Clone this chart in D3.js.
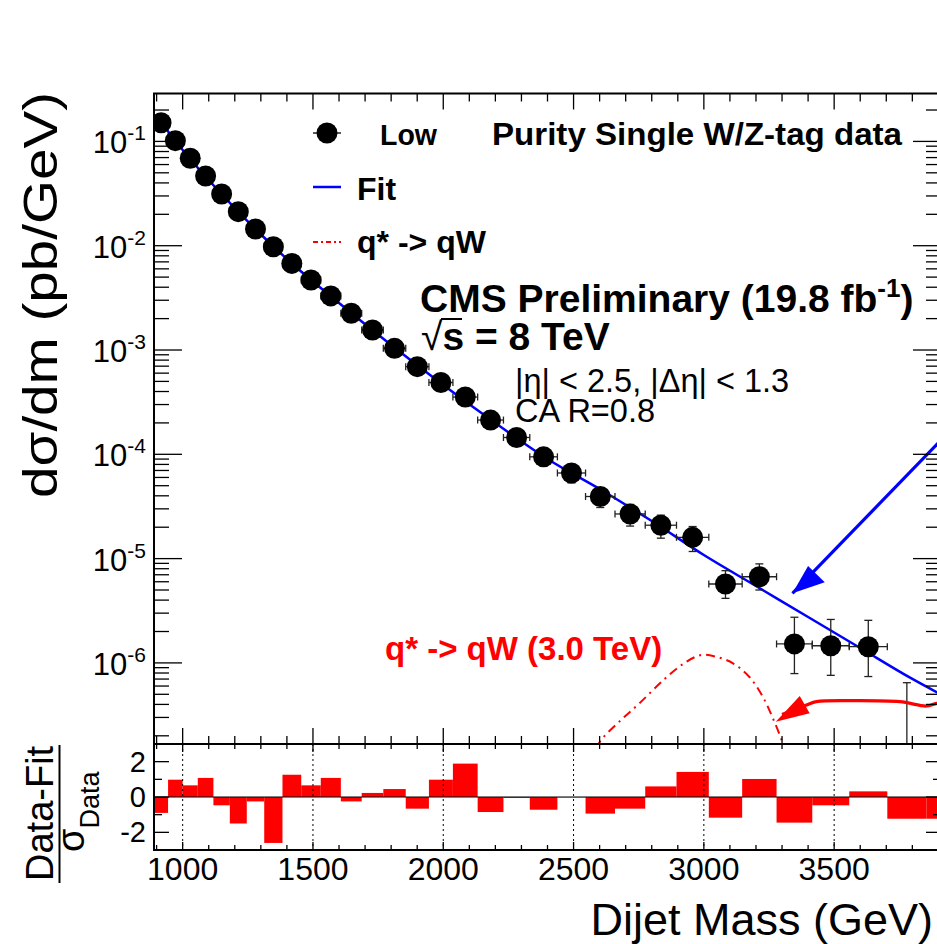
<!DOCTYPE html>
<html><head><meta charset="utf-8">
<script src="https://cdn.jsdelivr.net/npm/d3@7"></script>
<style>
body{margin:0;background:#fff}
svg{display:block}
text{font-family:"Liberation Sans",Arial,Helvetica,sans-serif}
</style>
</head><body>
<svg id="c" width="937" height="944"></svg>
<script>
// ---------------- DATA ----------------
const binEdges = [890, 944, 1000, 1058, 1118, 1181, 1246, 1313, 1383, 1455, 1530, 1607, 1687, 1770, 1856, 1945, 2037, 2132, 2231, 2332, 2438, 2546, 2659, 2775, 2895, 3019, 3147, 3279, 3416, 3558, 3704, 3854, 4010];
// dσ/dm (pb/GeV) per bin (last bin has no visible point)
const dataValues = [0.151, 0.1016, 0.0689, 0.0466, 0.0313, 0.0212, 0.01445, 0.00977, 0.00677, 0.00469, 0.00330, 0.00225, 0.001556, 0.001038, 0.000692, 0.000488, 0.000354, 0.000213, 0.000145, 9.46e-5, 6.62e-5, 3.94e-5, 2.68e-5, 2.09e-5, 1.60e-5, 5.71e-6, 6.70e-6, 1.52e-6, 1.46e-6, 1.43e-6, 1e-9];
const errUp   = [0.003, 0.0025, 0.002, 0.0016, 0.0012, 0.0009, 0.0007, 0.0005, 0.0004, 0.0003, 0.00023, 0.00018, 0.00014, 0.0001, 7.5e-5, 5.8e-5, 4.6e-5, 3.1e-5, 2.3e-5, 1.7e-5, 1.3e-5, 8.5e-6, 6.3e-6, 5.2e-6, 4.3e-6, 1.95e-6, 2.2e-6, 1.22e-6, 1.15e-6, 1.13e-6, 6.45e-7];
const errDown = [0.003, 0.0025, 0.002, 0.0016, 0.0012, 0.0009, 0.0007, 0.0005, 0.0004, 0.0003, 0.00023, 0.00018, 0.00014, 0.0001, 7.5e-5, 5.8e-5, 4.6e-5, 3.1e-5, 2.3e-5, 1.7e-5, 1.3e-5, 8.5e-6, 6.3e-6, 5.2e-6, 4.3e-6, 1.55e-6, 1.7e-6, 0.73e-6, 0.70e-6, 0.69e-6, 0];
// (Data-Fit)/σ per bin
const pullValues = [-0.9, 0.98, 0.66, 1.08, -0.47, -1.5, -0.25, -2.6, 1.26, 0.66, 1.08, -0.25, 0.23, 0.45, -0.66, 0.98, 1.89, -0.85, -0.05, -0.72, -0.02, -0.94, -0.66, 0.6, 1.42, -1.17, 1.02, -1.45, -0.47, 0.32, -1.23, -1.23];
// fit curve
const fitMass   = [905, 1000, 1200, 1400, 1600, 1800, 2000, 2200, 2400, 2600, 2800, 3000, 3200, 3400, 3600, 3800, 3950];
const fitValues = [0.1665, 0.0827, 0.02298, 0.00746, 0.002822, 0.001117, 4.62e-4, 1.995e-4, 9.02e-5, 4.65e-5, 2.293e-5, 1.082e-5, 5.46e-6, 2.754e-6, 1.39e-6, 7.02e-7, 4.41e-7];
// q* -> qW (3.0 TeV) signal shape
const sigMass   = [2550, 2601, 2680, 2753, 2845, 2924, 2990, 3050, 3112, 3174, 3226, 3266, 3301, 3330];
const sigValues = [1.0e-7, 1.755e-7, 2.8e-7, 4.10e-7, 6.86e-7, 9.91e-7, 1.19e-6, 1.14e-6, 9.91e-7, 7.37e-7, 4.74e-7, 2.90e-7, 1.755e-7, 1.1e-7];
// tick labels
const xTickValues = [1000, 1500, 2000, 2500, 3000, 3500];
const yTickExponents = [-1, -2, -3, -4, -5, -6];
const pullTickValues = [-2, 0, 2];
// annotation arrows (mass, dσ/dm)
const blueArrowLine = [[3985, 2.13e-4], [3340, 4.65e-6]];
const blueArrowHead = [[3340, 4.65e-6], [3400, 8.49e-6], [3464, 5.93e-6]];
const redArrowLine = [[3983, 4.04e-7], [3894, 4.10e-7], [3855, 3.86e-7], [3752, 4.25e-7], [3560, 4.35e-7], [3432, 4.25e-7], [3394, 3.95e-7], [3300, 3.2e-7]];
const redArrowHead = [[3276, 2.73e-7], [3368, 4.82e-7], [3406, 3.29e-7]];

// ---------------- LAYOUT ----------------
const L = 154, R = 941, T = 93.5, M = 744, B = 850;
const svg = d3.select("#c");
const x = d3.scaleLinear().domain([890, 3910]).range([L, R]);
const y = d3.scaleLog().domain([1.669e-7, 0.288]).range([M, T]);
const yp = d3.scaleLinear().domain([-3, 3]).range([B, M]);

const defs = svg.append("defs");
defs.append("clipPath").attr("id", "clipMain").append("rect").attr("x", L).attr("y", T).attr("width", R - L).attr("height", M - T);
defs.append("clipPath").attr("id", "clipPull").append("rect").attr("x", L).attr("y", M).attr("width", R - L).attr("height", B - M);

// ---------- pull panel ----------
const gp = svg.append("g").attr("clip-path", "url(#clipPull)");
gp.selectAll("rect.bar").data(pullValues).join("rect")
  .attr("x", (d, i) => x(binEdges[i]))
  .attr("width", (d, i) => x(binEdges[i + 1]) - x(binEdges[i]))
  .attr("y", d => yp(Math.max(d, 0)))
  .attr("height", d => Math.abs(yp(d) - yp(0)))
  .attr("fill", "#ff0000");
gp.selectAll("line.grid").data(xTickValues).join("line")
  .attr("x1", d => x(d)).attr("x2", d => x(d)).attr("y1", M).attr("y2", B)
  .attr("stroke", "#000").attr("stroke-width", 1).attr("stroke-dasharray", "2,3");
gp.append("line").attr("x1", L).attr("x2", R).attr("y1", yp(0)).attr("y2", yp(0)).attr("stroke", "#000").attr("stroke-width", 1.2);

// ---------- main panel ----------
const gm = svg.append("g").attr("clip-path", "url(#clipMain)");
gm.append("path").datum(sigMass.map((m, i) => [m, sigValues[i]]))
  .attr("d", d3.line().x(d => x(d[0])).y(d => y(d[1])).curve(d3.curveCatmullRom))
  .attr("fill", "none").attr("stroke", "#ff0000").attr("stroke-width", 2).attr("stroke-dasharray", "9,5,2,5");
gm.append("path").datum(fitMass.map((m, i) => [m, fitValues[i]]))
  .attr("d", d3.line().x(d => x(d[0])).y(d => y(d[1])).curve(d3.curveMonotoneX))
  .attr("fill", "none").attr("stroke", "#0000ff").attr("stroke-width", 2.5);
const pts = dataValues.map((v, i) => ({
  lo: binEdges[i], hi: binEdges[i + 1], c: (binEdges[i] + binEdges[i + 1]) / 2,
  v, up: v + errUp[i], dn: Math.max(v - errDown[i], 1e-12)
}));
const eb = gm.append("g").attr("stroke", "#222").attr("stroke-width", 1.3).attr("fill", "none");
pts.forEach(p => {
  const cx = x(p.c), cy = y(p.v);
  eb.append("line").attr("x1", x(p.lo)).attr("x2", x(p.hi)).attr("y1", cy).attr("y2", cy);
  eb.append("line").attr("x1", x(p.lo)).attr("x2", x(p.lo)).attr("y1", cy - 3.5).attr("y2", cy + 3.5);
  eb.append("line").attr("x1", x(p.hi)).attr("x2", x(p.hi)).attr("y1", cy - 3.5).attr("y2", cy + 3.5);
  const yu = y(p.up), yd = Math.min(y(p.dn), M + 20);
  eb.append("line").attr("x1", cx).attr("x2", cx).attr("y1", yu).attr("y2", yd);
  eb.append("line").attr("x1", cx - 4).attr("x2", cx + 4).attr("y1", yu).attr("y2", yu);
  eb.append("line").attr("x1", cx - 4).attr("x2", cx + 4).attr("y1", yd).attr("y2", yd);
});
gm.selectAll("circle.pt").data(pts).join("circle")
  .attr("cx", d => x(d.c)).attr("cy", d => y(d.v)).attr("r", 10.5).attr("fill", "#000");

// annotation arrows
const ln = d3.line().x(d => x(d[0])).y(d => y(d[1]));
svg.append("path").datum(blueArrowLine).attr("d", ln).attr("fill", "none").attr("stroke", "#0000ff").attr("stroke-width", 3.2);
svg.append("path").datum(blueArrowHead).attr("d", d => ln(d) + "Z").attr("fill", "#0000ff");
svg.append("path").datum(redArrowLine).attr("d", d3.line().x(d => x(d[0])).y(d => y(d[1])).curve(d3.curveCatmullRom)).attr("fill", "none").attr("stroke", "#ff0000").attr("stroke-width", 3.2);
svg.append("path").datum(redArrowHead).attr("d", d => ln(d) + "Z").attr("fill", "#ff0000");

// ---------- frames & ticks ----------
const axes = svg.append("g").attr("stroke", "#000").attr("fill", "none");
axes.append("rect").attr("x", L).attr("y", T).attr("width", R - L).attr("height", M - T).attr("stroke-width", 2);
axes.append("rect").attr("x", L).attr("y", M).attr("width", R - L).attr("height", B - M).attr("stroke-width", 2);
function tick(x1, y1, x2, y2, w) { axes.append("line").attr("x1", x1).attr("y1", y1).attr("x2", x2).attr("y2", y2).attr("stroke-width", w || 1.3); }
d3.range(900, 3901, 100).forEach(m => {
  const major = m % 500 === 0;
  const px = x(m);
  tick(px, T, px, T + (major ? 16 : 8));
  tick(px, M, px, M - (major ? 16 : 8));
  tick(px, M, px, M + (major ? 8 : 5));
  tick(px, B, px, B - (major ? 8 : 5));
});
for (let e = -7; e <= 0; e++) {
  for (let k = 1; k <= 9; k++) {
    const v = k * Math.pow(10, e);
    if (v < y.domain()[0] || v > y.domain()[1]) continue;
    const py = y(v), len = k === 1 ? 28 : 15;
    tick(L, py, L + len, py);
    tick(R, py, R - len, py);
  }
}
d3.range(-3, 4, 1).forEach(v => {
  const len = v % 2 === 0 ? 15 : 8;
  tick(L, yp(v), L + len, yp(v));
  tick(R, yp(v), R - len, yp(v));
});

// ---------- labels ----------
const txt = svg.append("g").attr("fill", "#000");
xTickValues.forEach(m => {
  txt.append("text").attr("x", x(m)).attr("y", 880).attr("text-anchor", "middle").attr("font-size", 32).text(m);
});
yTickExponents.forEach(e => {
  const t = txt.append("text").attr("x", 146).attr("y", y(Math.pow(10, e)) + 12).attr("text-anchor", "end").attr("font-size", 31);
  t.append("tspan").text("10");
  t.append("tspan").attr("font-size", 21).attr("dy", -13).text(String(e));
});
pullTickValues.forEach(v => {
  txt.append("text").attr("x", 146).attr("y", yp(v) + 10).attr("text-anchor", "end").attr("font-size", 29).text(v);
});
txt.append("text").attr("x", 933).attr("y", 935).attr("text-anchor", "end").attr("font-size", 45).text("Dijet Mass (GeV)");
txt.append("text").attr("transform", "translate(57,92) rotate(-90)").attr("text-anchor", "end").attr("font-size", 48)
  .attr("textLength", 406).attr("lengthAdjust", "spacingAndGlyphs").text("dσ/dm (pb/GeV)");
txt.append("text").attr("transform", "translate(53,881) rotate(-90)").attr("text-anchor", "start").attr("font-size", 38).text("Data-Fit");
txt.append("line").attr("x1", 59.5).attr("x2", 59.5).attr("y1", 745).attr("y2", 883).attr("stroke", "#000").attr("stroke-width", 2);
const sd = txt.append("text").attr("transform", "translate(84,852) rotate(-90)").attr("font-size", 38);
sd.append("tspan").text("σ");
sd.append("tspan").attr("font-size", 27).attr("dy", 15).text("Data");

// legend
const lg = svg.append("g");
lg.append("line").attr("x1", 313).attr("x2", 341).attr("y1", 133).attr("y2", 133).attr("stroke", "#000").attr("stroke-width", 1.3);
lg.append("circle").attr("cx", 327).attr("cy", 133).attr("r", 10.5).attr("fill", "#000");
lg.append("text").attr("x", 380).attr("y", 145).attr("font-size", 30).attr("font-weight", "bold")
  .attr("textLength", 57).attr("lengthAdjust", "spacingAndGlyphs").text("Low");
lg.append("text").attr("x", 492).attr("y", 145).attr("font-size", 31).attr("font-weight", "bold")
  .attr("textLength", 410).attr("lengthAdjust", "spacingAndGlyphs").text("Purity Single W/Z-tag data");
lg.append("line").attr("x1", 313).attr("x2", 341).attr("y1", 187).attr("y2", 187).attr("stroke", "#0000ff").attr("stroke-width", 2.5);
lg.append("text").attr("x", 357).attr("y", 200).attr("font-size", 32).attr("font-weight", "bold").text("Fit");
lg.append("line").attr("x1", 313).attr("x2", 341).attr("y1", 242).attr("y2", 242).attr("stroke", "#ff0000").attr("stroke-width", 2).attr("stroke-dasharray", "5,3,2,3");
lg.append("text").attr("x", 357).attr("y", 253).attr("font-size", 32).attr("font-weight", "bold").text("q* -> qW");

// CMS texts
const cms = txt.append("text").attr("x", 420).attr("y", 312).attr("font-size", 39).attr("font-weight", "bold");
cms.append("tspan").text("CMS Preliminary (19.8 fb");
cms.append("tspan").attr("font-size", 26).attr("dy", -15).text("-1");
cms.append("tspan").attr("dy", 15).text(")");
const rs = txt.append("text").attr("x", 421).attr("y", 350).attr("font-size", 39).attr("font-weight", "bold");
rs.append("tspan").attr("font-weight", "normal").text("√");
rs.append("tspan").text("s = 8 TeV");
txt.append("line").attr("x1", 441).attr("x2", 462).attr("y1", 319).attr("y2", 319).attr("stroke", "#000").attr("stroke-width", 2);
txt.append("text").attr("x", 515).attr("y", 392).attr("font-size", 32.5).text("|η| < 2.5, |Δη| < 1.3");
txt.append("text").attr("x", 515).attr("y", 422).attr("font-size", 32.5).text("CA R=0.8");
txt.append("text").attr("x", 385).attr("y", 660).attr("font-size", 33).attr("font-weight", "bold").attr("fill", "#ff0000").text("q* -> qW (3.0 TeV)");
</script>
</body></html>
